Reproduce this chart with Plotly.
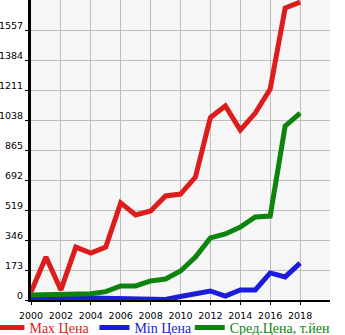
import plotly.graph_objects as go

years = list(range(2000, 2019))
max_price = [46, 248, 58, 305, 271, 305, 560, 490, 513, 600, 611, 709, 1052, 1119, 980, 1078, 1217, 1684, 1718]
min_price = [15, 12, 12, 12, 12, 10, 5, 8, 2, 3, 20, 38, 52, 23, 58, 58, 156, 133, 213]
avg_price = [29, 29, 29, 29, 36, 48, 81, 81, 110, 121, 167, 248, 358, 381, 421, 479, 484, 1003, 1078]
y_ticks = [0, 173, 346, 519, 692, 865, 1038, 1211, 1384, 1557]
x_ticks = list(range(2000, 2019, 2))

series = [
    ("Max Цена", max_price, "#dd1c1c", "legend"),
    ("Min Цена", min_price, "#1c1cdd", "legend"),
    ("Сред.Цена, т.йен", avg_price, "#0e840e", "legend2"),
]

fig = go.Figure()
for name, vals, col, lg in series:
    fig.add_trace(go.Scatter(x=years, y=vals,
                             name=f'<span style="color:{col}">{name}</span>',
                             mode="lines", line=dict(color=col, width=5),
                             legend=lg))

leg_common = dict(orientation="h", yanchor="middle", y=-28/300, xanchor="left",
                  font=dict(family="Liberation Serif", size=14),
                  tracegroupgap=0, traceorder="normal", bgcolor="rgba(0,0,0,0)")

fig.update_layout(
    width=345, height=335,
    margin=dict(l=31, r=15, t=0, b=35, autoexpand=False),
    paper_bgcolor="white",
    plot_bgcolor="#f6f6f6",
    showlegend=True,
    legend=dict(x=-0.139, **leg_common),
    legend2=dict(x=0.531, **leg_common),
    font=dict(family="DejaVu Sans", size=10, color="black"),
)
fig.update_xaxes(range=[2000, 2020], tickvals=x_ticks, ticktext=[str(v) for v in x_ticks],
                 tickangle=0, ticklabelstandoff=3,
                 showgrid=True, gridcolor="#bdbdbd", gridwidth=1,
                 showline=True, linecolor="black", linewidth=2,
                 ticks="outside", ticklen=3, tickcolor="black",
                 zeroline=False, tickfont=dict(family="DejaVu Sans", size=9.5))
fig.update_yaxes(range=[0, 1730], tickvals=y_ticks, ticktext=[str(v) for v in y_ticks],
                 showgrid=True, gridcolor="#bdbdbd", gridwidth=1,
                 showline=True, linecolor="black", linewidth=3,
                 ticks="outside", ticklen=3, tickcolor="black", ticklabelshift=-4,
                 zeroline=False, tickfont=dict(family="DejaVu Sans", size=9.5))

fig.write_html("out.html")
